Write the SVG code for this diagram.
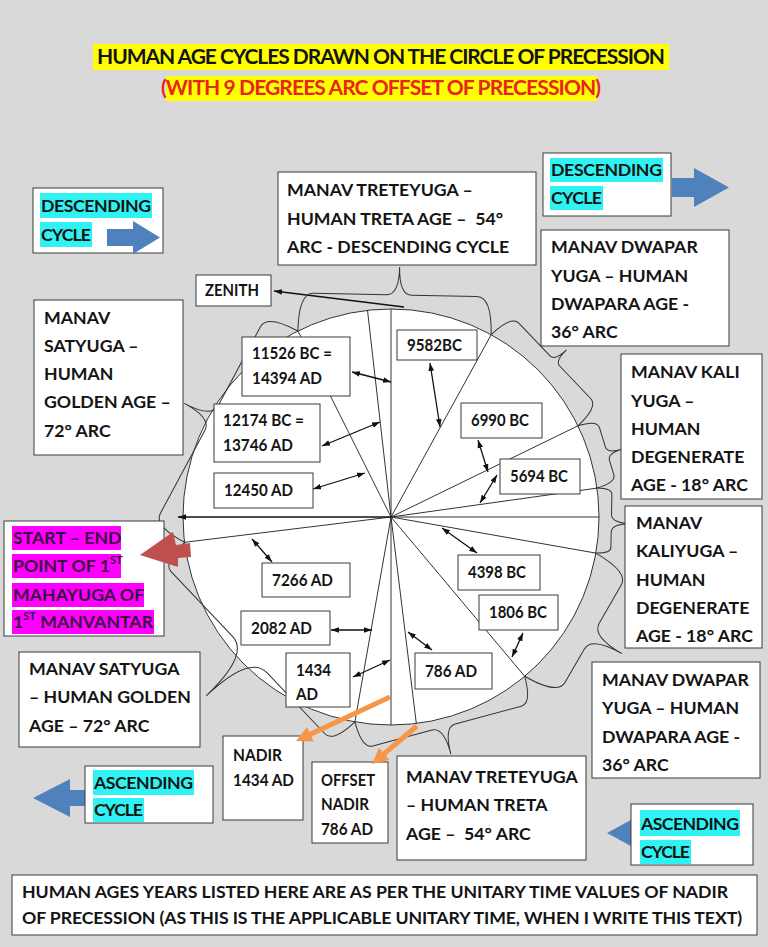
<svg xmlns="http://www.w3.org/2000/svg" width="768" height="947" viewBox="0 0 768 947">
<style>
.bg{fill:#d9d9d9}
.box{fill:#fff;stroke:#3a3a3a;stroke-width:1}
.t{font-family:Lato,"Liberation Sans",sans-serif;font-weight:bold;font-size:17.7px;fill:#141414}
.cy{fill:#2ff3f3}
.mg{fill:#ff00ff}
.ray{stroke:#333;stroke-width:1;fill:none}
.brace{stroke:#333;stroke-width:1;fill:none}
.dbl{stroke:#111;stroke-width:1.3;fill:none;marker-start:url(#ah);marker-end:url(#ah)}
.one{stroke:#111;stroke-width:1.3;fill:none;marker-end:url(#ah)}
.blue{fill:#4f81bd}
.org{stroke:#f79646;stroke-width:5;fill:none;marker-end:url(#oh)}
</style>
<defs>
<marker id="ah" viewBox="0 0 10 10" refX="10" refY="5" markerWidth="8" markerHeight="8" orient="auto-start-reverse" markerUnits="userSpaceOnUse"><path d="M0,1.5 L10,5 L0,8.5 z" fill="#111"/></marker>
<marker id="oh" viewBox="0 0 10 10" refX="6" refY="5" markerWidth="16" markerHeight="16" orient="auto" markerUnits="userSpaceOnUse"><path d="M0,0 L10,5 L0,10 z" fill="#f79646"/></marker>
</defs>
<rect class="bg" x="0" y="0" width="768" height="947"/>
<g id="title">
<rect x="93" y="44" width="576" height="26" fill="#ffff00"/>
<rect x="166" y="76" width="431" height="25" fill="#ffff00"/>
<text class="t" x="381" y="64" font-size="21" text-anchor="middle" textLength="568" style="font-size:21px">HUMAN AGE CYCLES DRAWN ON THE CIRCLE OF PRECESSION</text>
<text class="t" x="381" y="95" text-anchor="middle" textLength="440" style="font-size:21px;fill:#e8251b">(WITH 9 DEGREES ARC OFFSET OF PRECESSION)</text>
</g>
<g id="circle">
<circle cx="391" cy="517" r="208" fill="#fff" stroke="#333" stroke-width="1"/>
</g>
<g id="connectors">
<path class="ray" d="M391,517 L391,309 M391,517 L367.5,310.3 M391,517 L297.9,331 M391,517 L491.2,334.7 M391,517 L578,425.8 M391,517 L597,488.1 M391,517 L599,517 M391,517 L595.8,553.1 M391,517 L524.7,676.3 M391,517 L416.3,723.4 M391,517 L391,725 M391,517 L354.9,721.8 M391,517 L184.6,542.3"/>
<path class="one" d="M391,517 L178,517"/>
<path class="one" d="M404,307 L274,291"/>
<path class="brace" transform="translate(297.9 331) rotate(1.1)" d="M0,0 Q0,-38 15,-38 L87.9,-38 Q100.5,-38 100.5,-66 Q100.5,-38 113.1,-38 L178.3,-38 Q193.3,-38 193.3,0"/>
<path class="brace" transform="translate(491.2 334.7) rotate(46.38)" d="M0,0 Q0,-28 11,-28 L55.9,-28 Q62.9,-28 62.9,-44 Q62.9,-28 69.9,-28 L114.8,-28 Q125.8,-28 125.8,0"/>
<path class="brace" transform="translate(578 425.8) rotate(73.04)" d="M0,0 Q0,-20 8,-20 L28.2,-20 Q35.2,-20 35.2,-35 Q35.2,-20 42.2,-20 L57.1,-20 Q65.1,-20 65.1,0"/>
<path class="brace" transform="translate(597 488.1) rotate(91.06)" d="M0,0 Q0,-15 6,-15 L26.1,-15 Q35.1,-15 35.1,-36 Q35.1,-15 44.1,-15 L59,-15 Q65,-15 65,0"/>
<path class="brace" transform="translate(595.8 553.1) rotate(120)" d="M0,0 Q0,-38 15,-38 L59,-38 Q74,-38 74,-73 Q74,-38 89,-38 L127.2,-38 Q142.2,-38 142.2,0"/>
<path class="brace" transform="translate(524.7 676.3) rotate(165)" d="M0,0 Q0,-28 11,-28 L79.4,-28 Q91.4,-28 91.4,-56 Q91.4,-28 103.4,-28 L164.8,-28 Q175.8,-28 175.8,0"/>
<path class="brace" transform="translate(354.9 721.8) rotate(-133.5)" d="M0,0 Q0,-30 12,-30 L96.2,-30 Q121.2,-30 121.2,-90 Q121.2,-30 146.2,-30 L235.4,-30 Q247.4,-30 247.4,0"/>
<path class="brace" transform="translate(184.6 542.3) rotate(-61.8)" d="M0,0 Q0,-35 14,-35 L108.3,-35 Q122.3,-35 122.3,-66 Q122.3,-35 136.3,-35 L225.8,-35 Q239.8,-35 239.8,0"/>
<path class="dbl" d="M352,372 L391,382"/>
<path class="dbl" d="M430,363 L440,427"/>
<path class="dbl" d="M322,446 L380,422"/>
<path class="dbl" d="M313,489 L365,473"/>
<path class="dbl" d="M478,440 L488,472"/>
<path class="dbl" d="M497,475 L480,503"/>
<path class="dbl" d="M252,539 L272,562"/>
<path class="dbl" d="M442,528 L477,553"/>
<path class="dbl" d="M331,630 L372,630"/>
<path class="dbl" d="M353,677 L390,660"/>
<path class="dbl" d="M408,632 L432,650"/>
<path class="dbl" d="M523,633 L512,657"/>
</g>
<g id="desc-left">
<rect class="box" x="33" y="188" width="130" height="65"/>
<rect class="cy" x="40" y="193" width="112" height="25"/>
<rect class="cy" x="40" y="222" width="52" height="25"/>
<text class="t" x="41" y="212" textLength="110">DESCENDING</text>
<text class="t" x="41" y="241" textLength="50">CYCLE</text>
<polygon class="blue" points="107,229 133,229 133,221 160,237.5 133,254 133,246 107,246"/>
</g>
<g id="treta-top">
<rect class="box" x="278" y="172" width="258" height="93"/>
<text class="t" x="287" y="196">MANAV TRETEYUGA –</text>
<text class="t" x="287" y="225" xml:space="preserve">HUMAN TRETA AGE –  54°</text>
<text class="t" x="287" y="253">ARC - DESCENDING CYCLE</text>
</g>
<g id="desc-right">
<rect class="box" x="543" y="153" width="128" height="63"/>
<rect class="cy" x="550" y="158" width="113" height="24"/>
<rect class="cy" x="550" y="186" width="53" height="24"/>
<text class="t" x="551" y="176" textLength="111">DESCENDING</text>
<text class="t" x="551" y="204" textLength="51">CYCLE</text>
<polygon class="blue" points="672,178 694,178 694,168 729,187.5 694,207 694,197 672,197"/>
</g>
<g id="dwapar-top">
<rect class="box" x="541" y="230" width="188" height="116"/>
<text class="t" x="551" y="253">MANAV DWAPAR</text>
<text class="t" x="551" y="282">YUGA – HUMAN</text>
<text class="t" x="551" y="310">DWAPARA AGE -</text>
<text class="t" x="551" y="338">36° ARC</text>
</g>
<g id="zenith">
<rect class="box" x="196" y="275" width="75" height="31"/>
<text class="t" x="205" y="296" textLength="54" lengthAdjust="spacingAndGlyphs">ZENITH</text>
</g>
<g id="n9582">
<rect class="box" x="397" y="330" width="80" height="30"/>
<text class="t" x="407" y="351" textLength="55" lengthAdjust="spacingAndGlyphs">9582BC</text>
</g>
<g id="n11526">
<rect class="box" x="242" y="337" width="108" height="59"/>
<text class="t" x="252" y="359" textLength="80" lengthAdjust="spacingAndGlyphs">11526 BC =</text>
<text class="t" x="252" y="384" textLength="70" lengthAdjust="spacingAndGlyphs">14394 AD</text>
</g>
<g id="satya-top">
<rect class="box" x="34" y="300" width="149" height="155"/>
<text class="t" x="44" y="324">MANAV</text>
<text class="t" x="44" y="352">SATYUGA –</text>
<text class="t" x="44" y="380">HUMAN</text>
<text class="t" x="44" y="408">GOLDEN AGE –</text>
<text class="t" x="44" y="437">72° ARC</text>
</g>
<g id="n12174">
<rect class="box" x="214" y="404" width="106" height="58"/>
<text class="t" x="223" y="426" textLength="81" lengthAdjust="spacingAndGlyphs">12174 BC =</text>
<text class="t" x="223" y="451" textLength="70" lengthAdjust="spacingAndGlyphs">13746 AD</text>
</g>
<g id="n6990">
<rect class="box" x="461" y="403" width="81" height="35"/>
<text class="t" x="471" y="426" textLength="58" lengthAdjust="spacingAndGlyphs">6990 BC</text>
</g>
<g id="kali-top">
<rect class="box" x="621" y="354" width="141" height="145"/>
<text class="t" x="631" y="378">MANAV KALI</text>
<text class="t" x="631" y="407">YUGA –</text>
<text class="t" x="631" y="435">HUMAN</text>
<text class="t" x="631" y="463">DEGENERATE</text>
<text class="t" x="631" y="491">AGE - 18° ARC</text>
</g>
<g id="n5694">
<rect class="box" x="500" y="459" width="80" height="35"/>
<text class="t" x="510" y="482" textLength="58" lengthAdjust="spacingAndGlyphs">5694 BC</text>
</g>
<g id="n12450">
<rect class="box" x="214" y="473" width="99" height="35"/>
<text class="t" x="224" y="496" textLength="69" lengthAdjust="spacingAndGlyphs">12450 AD</text>
</g>
<g id="start">
<rect class="box" x="4" y="521" width="160" height="115"/>
<rect class="mg" x="12" y="526" width="109" height="24"/>
<rect class="mg" x="12" y="554" width="109" height="24"/>
<rect class="mg" x="12" y="583" width="132" height="24"/>
<rect class="mg" x="12" y="610" width="142" height="24"/>
<text class="t" x="13" y="544" style="fill:#3a1040">START – END</text>
<text class="t" x="13" y="572" style="fill:#3a1040">POINT OF 1<tspan font-size="11" dy="-8">ST</tspan></text>
<text class="t" x="13" y="601" style="fill:#3a1040">MAHAYUGA OF</text>
<text class="t" x="13" y="628" style="fill:#3a1040">1<tspan font-size="11" dy="-8">ST</tspan><tspan dy="8"> MANVANTAR</tspan></text>
</g>
<g id="kali-bottom">
<rect class="box" x="625" y="506" width="137" height="142"/>
<text class="t" x="636" y="529">MANAV</text>
<text class="t" x="636" y="557">KALIYUGA –</text>
<text class="t" x="636" y="586">HUMAN</text>
<text class="t" x="636" y="614">DEGENERATE</text>
<text class="t" x="636" y="642">AGE - 18° ARC</text>
</g>
<g id="n7266">
<rect class="box" x="262" y="563" width="88" height="34"/>
<text class="t" x="272" y="586" textLength="61" lengthAdjust="spacingAndGlyphs">7266 AD</text>
</g>
<g id="n4398">
<rect class="box" x="458" y="555" width="82" height="35"/>
<text class="t" x="468" y="578" textLength="58" lengthAdjust="spacingAndGlyphs">4398 BC</text>
</g>
<g id="n1806">
<rect class="box" x="479" y="595" width="79" height="35"/>
<text class="t" x="489" y="618" textLength="58" lengthAdjust="spacingAndGlyphs">1806 BC</text>
</g>
<g id="n2082">
<rect class="box" x="241" y="611" width="89" height="34"/>
<text class="t" x="251" y="634" textLength="61" lengthAdjust="spacingAndGlyphs">2082 AD</text>
</g>
<g id="satya-bottom">
<rect class="box" x="19" y="652" width="181" height="95"/>
<text class="t" x="29" y="675">MANAV SATYUGA</text>
<text class="t" x="29" y="703">– HUMAN GOLDEN</text>
<text class="t" x="29" y="732">AGE – 72° ARC</text>
</g>
<g id="n1434">
<rect class="box" x="286" y="653" width="64" height="54"/>
<text class="t" x="296" y="676" textLength="35" lengthAdjust="spacingAndGlyphs">1434</text>
<text class="t" x="296" y="700" textLength="22" lengthAdjust="spacingAndGlyphs">AD</text>
</g>
<g id="n786">
<rect class="box" x="415" y="653" width="77" height="36"/>
<text class="t" x="425" y="677" textLength="52" lengthAdjust="spacingAndGlyphs">786 AD</text>
</g>
<g id="dwapar-bottom">
<rect class="box" x="592" y="662" width="168" height="116"/>
<text class="t" x="602" y="686">MANAV DWAPAR</text>
<text class="t" x="602" y="714">YUGA – HUMAN</text>
<text class="t" x="602" y="743">DWAPARA AGE -</text>
<text class="t" x="602" y="771">36° ARC</text>
</g>
<g id="nadir">
<rect class="box" x="223" y="736" width="80" height="84"/>
<text class="t" x="233" y="761" textLength="49" lengthAdjust="spacingAndGlyphs">NADIR</text>
<text class="t" x="233" y="786" textLength="61" lengthAdjust="spacingAndGlyphs">1434 AD</text>
</g>
<g id="offset-nadir">
<rect class="box" x="312" y="762" width="76" height="81"/>
<text class="t" x="321" y="786" textLength="54" lengthAdjust="spacingAndGlyphs">OFFSET</text>
<text class="t" x="321" y="810" textLength="48" lengthAdjust="spacingAndGlyphs">NADIR</text>
<text class="t" x="321" y="835" textLength="52" lengthAdjust="spacingAndGlyphs">786 AD</text>
</g>
<g id="treta-bottom">
<rect class="box" x="397" y="756" width="189" height="104"/>
<text class="t" x="406" y="783">MANAV TRETEYUGA</text>
<text class="t" x="406" y="811">– HUMAN TRETA</text>
<text class="t" x="406" y="840" xml:space="preserve">AGE –  54° ARC</text>
</g>
<g id="asc-left">
<polygon class="blue" points="33,798 70,779 70,790 86,790 86,806 70,806 70,817"/>
<rect class="box" x="85" y="766" width="128" height="57"/>
<rect class="cy" x="93" y="770" width="101" height="25"/>
<rect class="cy" x="93" y="798" width="51" height="24"/>
<text class="t" x="94" y="789" textLength="99">ASCENDING</text>
<text class="t" x="94" y="816" textLength="49">CYCLE</text>
</g>
<g id="asc-right">
<polygon class="blue" points="607,833 640,815 640,851"/>
<rect class="box" x="631" y="804" width="122" height="61"/>
<rect class="cy" x="640" y="810" width="100" height="26"/>
<rect class="cy" x="640" y="840" width="51" height="24"/>
<text class="t" x="641" y="830" textLength="98">ASCENDING</text>
<text class="t" x="641" y="858" textLength="49">CYCLE</text>
</g>
<g id="note">
<rect class="box" x="12" y="875" width="745" height="60"/>
<text class="t" x="22" y="898" textLength="706">HUMAN AGES YEARS LISTED HERE ARE AS PER THE UNITARY TIME VALUES OF NADIR</text>
<text class="t" x="22" y="924" textLength="720">OF PRECESSION (AS THIS IS THE APPLICABLE UNITARY TIME, WHEN I WRITE THIS TEXT)</text>
</g>
<g id="pointers">
<polygon points="140,555 173,532 176,545 190,543 191,557 178,558 178,567" fill="#c0504d"/>
<path class="org" d="M390,697 L301.8,738.3"/>
<path class="org" d="M417,726 L376.9,759.9"/>
</g>
</svg>
